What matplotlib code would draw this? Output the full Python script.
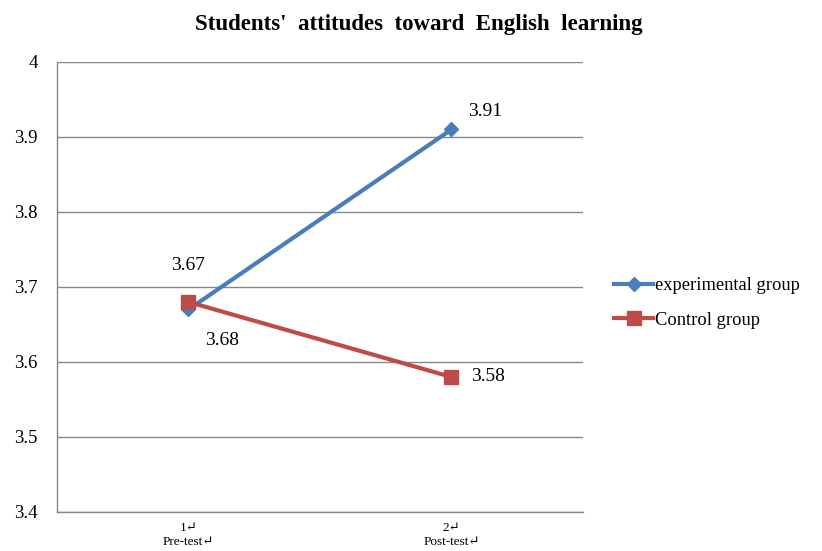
import matplotlib.pyplot as plt

plt.rcParams['font.family'] = ['Liberation Serif', 'DejaVu Serif']

# 数据
categories = ['1\u21b5\nPre-test\u21b5', '2\u21b5\nPost-test\u21b5']
experimental = [3.67, 3.91]
control = [3.68, 3.58]
yticks = [3.4, 3.5, 3.6, 3.7, 3.8, 3.9, 4.0]
ytick_labels = ['3.4', '3.5', '3.6', '3.7', '3.8', '3.9', '4']

fig = plt.figure(figsize=(8.22, 5.51), dpi=100)
ax = fig.add_axes([0.0693, 0.0708, 0.6399, 0.8167])

x = [1, 2]
ax.plot(x, experimental, color='#4A7EBB', linewidth=3, marker='D', markersize=7,
        label='experimental group', zorder=3)
ax.plot(x, control, color='#BE4B48', linewidth=3, marker='s', markersize=10,
        label='Control group', zorder=4)

# 数据标签
offsets_exp = [(0, 32), (12, 13)]
offsets_ctl = [(24, -28), (14, 0)]
for xi, v, off in zip(x, experimental, offsets_exp):
    ax.annotate(f'{v:.2f}', (xi, v), xytext=off, textcoords='offset points',
                ha='center' if xi == 1 else 'left', va='center', fontsize=14)
for xi, v, off in zip(x, control, offsets_ctl):
    ax.annotate(f'{v:.2f}', (xi, v), xytext=off, textcoords='offset points',
                ha='center' if xi == 1 else 'left', va='center', fontsize=14)

ax.set_xlim(0.5, 2.5)
ax.set_ylim(3.4, 4.0)
ax.set_yticks(yticks)
ax.set_yticklabels(ytick_labels, fontsize=13.5)
ax.set_xticks(x)
ax.set_xticklabels(categories, fontsize=9.5, linespacing=1.3)
ax.tick_params(axis='x', length=0, pad=7)
ax.tick_params(axis='y', length=0, pad=14)
ax.yaxis.grid(True, color='#868686', linewidth=1)
ax.set_axisbelow(True)
for side in ['top', 'right']:
    ax.spines[side].set_visible(False)
for side in ['left', 'bottom']:
    ax.spines[side].set_color('#868686')
    ax.spines[side].set_linewidth(1)

fig.suptitle("Students'  attitudes  toward  English  learning", x=0.51, y=0.975,
             fontsize=16.5, fontweight='bold')

fig.legend(loc='center left', bbox_to_anchor=(0.727, 0.45), frameon=False,
           fontsize=13.3, handlelength=2.1, handletextpad=0.1, labelspacing=0.95)

fig.savefig('out.png', dpi=100)
